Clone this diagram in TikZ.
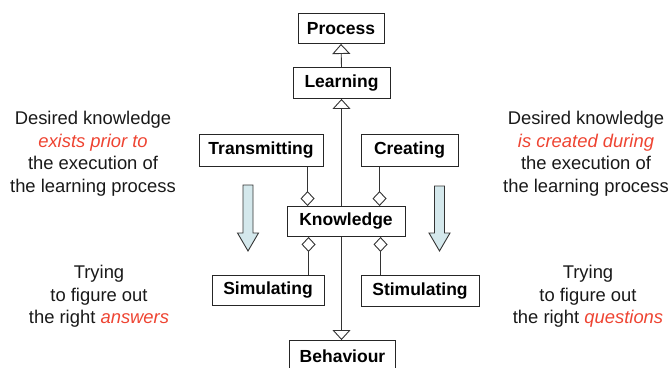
\documentclass[tikz,border=0pt]{standalone}
\usepackage{fontspec}
\setmainfont{Liberation Sans}
\usetikzlibrary{arrows.meta,calc,backgrounds}
\definecolor{hl}{RGB}{238,68,50}
\definecolor{arrfill}{RGB}{212,232,236}
\definecolor{txt}{RGB}{25,25,25}
\tikzset{
  box/.style={draw=black!85,line width=0.9pt,fill=white,inner sep=0pt,font=\fontsize{17.5}{20}\selectfont\bfseries,text=black},
  link/.style={draw=black!80,line width=0.9pt},
  dia/.style={link,{Diamond[open,length=15pt,width=14pt,line width=0.9pt]}-},
  gen/.style={link,{Triangle[open,length=10pt,width=18pt,line width=0.9pt]}-},
  note/.style={align=center,font=\fontsize{18.4}{22.5}\selectfont,text=txt,inner sep=0pt},
  blockarrow/.style={draw=black!80,fill=arrfill,line width=0.9pt,line join=miter}
}
\begin{document}
\begin{tikzpicture}[x=1pt,y=-1pt]
\useasboundingbox (0,0) rectangle (671,367);
\clip (0,0) rectangle (671,367);
\node[box,minimum width=86pt,minimum height=30pt] (Process) at (341,28.5) {Process};
\node[box,minimum width=97pt,minimum height=31pt] (Learning) at (341.5,83) {Learning};
\node[box,minimum width=124pt,minimum height=32pt] (Transmitting) at (261,150.5) {Transmitting};
\node[box,minimum width=97pt,minimum height=32pt] (Creating) at (409.5,150.5) {Creating};
\node[box,minimum width=118pt,minimum height=30pt] (Knowledge) at (346,221.5) {Knowledge};
\node[box,minimum width=112pt,minimum height=30pt] (Simulating) at (268,290.5) {Simulating};
\node[box,minimum width=118pt,minimum height=31pt] (Stimulating) at (420,291) {Stimulating};
\node[box,minimum width=106pt,minimum height=32pt] (Behaviour) at (342.5,356.5) {Behaviour};

\coordinate (kt1) at ($(Knowledge.north west)+(21,0)$);
\coordinate (kt2) at ($(Knowledge.north west)+(93,0)$);
\coordinate (kb1) at ($(Knowledge.south west)+(22,0)$);
\coordinate (kb2) at ($(Knowledge.south west)+(94,0)$);

\begin{pgfonlayer}{background}
\draw[gen] (Process.south) -- (Learning.north);
\draw[link,{Triangle[open,length=10pt,width=18pt,line width=0.9pt]}-{Triangle[open,length=10pt,width=18pt,line width=0.9pt]}] (Learning.south) -- (Learning.south |- Behaviour.north);
\end{pgfonlayer}
\draw[dia] (kt1) -- (kt1 |- Transmitting.south);
\draw[dia] (kt2) -- (kt2 |- Creating.south);
\draw[dia] (kb1) -- (kb1 |- Simulating.north);
\draw[dia] (kb2) -- (kb2 |- Stimulating.north);

\draw[blockarrow] (243,185) -- (253,185) -- (253,233) -- (258.5,233) -- (248,251) -- (237.5,233) -- (243,233) -- cycle;
\draw[blockarrow] (434.5,186) -- (444.5,186) -- (444.5,233) -- (450,233) -- (439.5,251) -- (429,233) -- (434.5,233) -- cycle;

\node[note] (lt) at (93,153.5) {Desired knowledge\\\textcolor{hl}{\itshape exists prior to}\\the execution of\\the learning process};
\node[note] (rt) at (586,153.5) {Desired knowledge\\\textcolor{hl}{\itshape is created during}\\the execution of\\the learning process};
\node[note] (lb) at (99,296.5) {Trying\\to figure out\\the right \textcolor{hl}{\itshape answers}};
\node[note] (rb) at (588,296.5) {Trying\\to figure out\\the right \textcolor{hl}{\itshape questions}};
\end{tikzpicture}
\end{document}
